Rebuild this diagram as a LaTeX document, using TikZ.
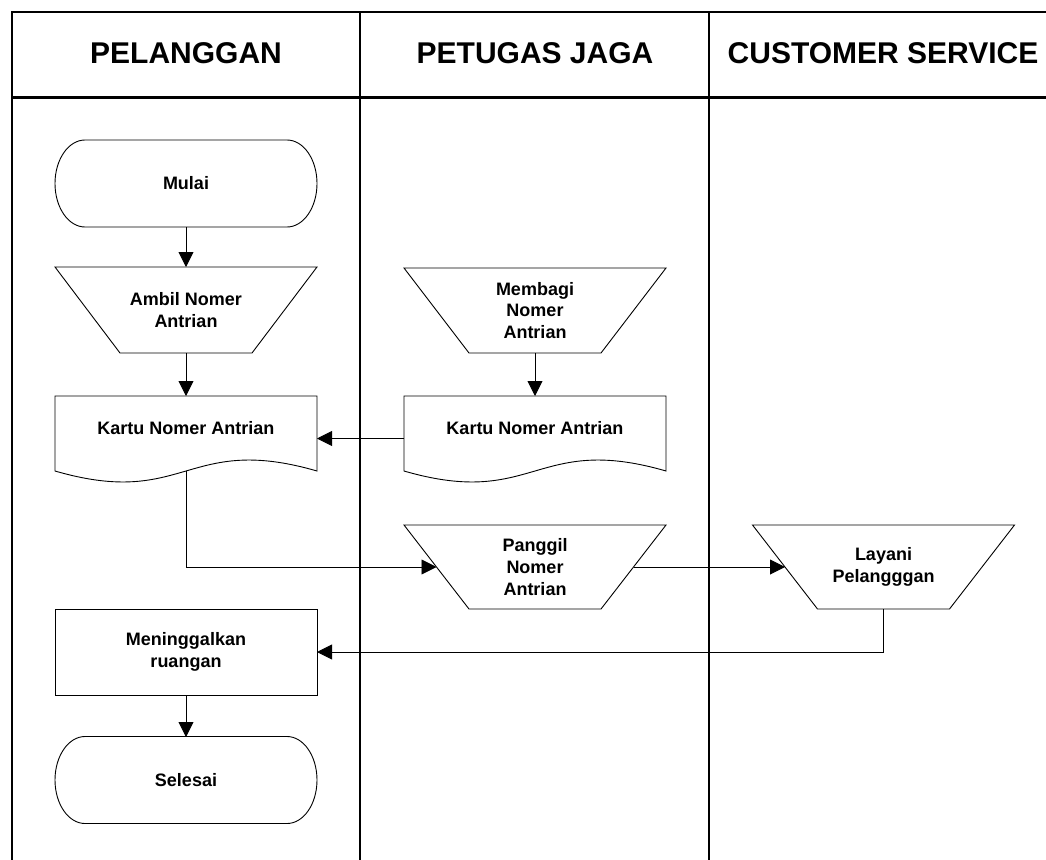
\documentclass[tikz,border=0pt]{standalone}
\usepackage{fontspec}
\setmainfont{Liberation Sans}
\usetikzlibrary{arrows.meta}

% outline macros drawn around a named (invisible) text node
\newcommand\termshape[1]{%
  \draw[outline,shift={(#1.center)}] (-101pt,43.5pt) -- (101pt,43.5pt)
    arc[start angle=90,end angle=-90,x radius=30pt,y radius=43.5pt]
    -- (-101pt,-43.5pt)
    arc[start angle=270,end angle=90,x radius=30pt,y radius=43.5pt] -- cycle;}
\newcommand\manualshape[1]{%
  \draw[outline] (#1.north west) -- (#1.north east)
    -- ([xshift=-65pt]#1.south east) -- ([xshift=65pt]#1.south west) -- cycle;}
\newcommand\docshape[1]{%
  \draw[outline] (#1.north west) -- (#1.north east) -- ([yshift=10pt]#1.south east)
    .. controls ([yshift=48pt]#1.south) and ([yshift=-28pt]#1.south) ..
    ([yshift=10pt]#1.south west) -- cycle;}

\begin{document}
\begin{tikzpicture}[x=1pt,y=-1pt,
  lane/.style={line width=2.6pt},
  outline/.style={draw=black,line width=0.9pt},
  flow/.style={line width=0.9pt,-{Triangle[length=15pt,width=15pt]}},
  link/.style={line width=0.9pt},
  lbl/.style={font=\fontsize{18}{21.6}\selectfont\bfseries,align=center,
              inner sep=0pt,outer sep=0pt,minimum width=262pt},
  docnode/.style={lbl,minimum height=85pt,text height=13pt,text depth=21pt},
  head/.style={font=\fontsize{30}{36}\selectfont\bfseries,anchor=base},
]
\useasboundingbox (0,0) rectangle (1046,859);

% swimlane frame
\draw[lane] (12,875) -- (12,12) -- (1075,12);
\draw[lane] (12,97.5) -- (1075,97.5);
\draw[lane] (360,12) -- (360,875);
\draw[lane] (709,12) -- (709,875);

% lane headings
\node[head] (hpel) at (186,63.3) {PELANGGAN};
\node[head] (hpet) at (535,63.3) {PETUGAS JAGA};
\node[head] (hcs)  at (883,63.3) {CUSTOMER SERVICE};

% PELANGGAN lane
\node[lbl,minimum height=87pt] (mulai) at (186,183.5) {Mulai};
\termshape{mulai}
\node[lbl,minimum height=86pt] (ambil) at (186,310) {Ambil Nomer\\Antrian};
\manualshape{ambil}
\node[docnode] (kartuL) at (186,438.5) {Kartu Nomer Antrian};
\docshape{kartuL}
\node[lbl,minimum height=86pt,draw,line width=0.9pt] (keluar) at (186,652) {Meninggalkan\\ruangan};
\node[lbl,minimum height=86pt] (selesai) at (186,780) {Selesai};
\termshape{selesai}

% PETUGAS JAGA lane
\node[lbl,minimum height=85pt] (membagi) at (535,310.5) {Membagi\\Nomer\\Antrian};
\manualshape{membagi}
\node[docnode] (kartuR) at (535,438.5) {Kartu Nomer Antrian};
\docshape{kartuR}
\node[lbl,minimum height=84pt] (panggil) at (535,567) {Panggil\\Nomer\\Antrian};
\manualshape{panggil}

% CUSTOMER SERVICE lane
\node[lbl,minimum height=84pt] (layani) at (883.5,567) {Layani\\Pelangggan};
\manualshape{layani}

% points on the slanted sides
\coordinate (panggilIn)  at ([xshift=32.5pt]panggil.west);
\coordinate (panggilOut) at ([xshift=-32.5pt]panggil.east);
\coordinate (layaniIn)   at ([xshift=32.5pt]layani.west);
\coordinate (kartuLout)  at ([yshift=10pt]kartuL.south);

% connectors
\draw[flow] (mulai.south) -- (ambil.north);
\draw[flow] (ambil.south) -- (kartuL.north);
\draw[flow] (membagi.south) -- (kartuR.north);
\draw[flow] (kartuR.west) -- (kartuL.east);
\draw[flow] (kartuLout) |- (panggilIn);
\draw[flow] (panggilOut) -- (layaniIn);
\draw[flow] (layani.south) |- (keluar.east);
\draw[flow] (keluar.south) -- (selesai.north);
\end{tikzpicture}
\end{document}
